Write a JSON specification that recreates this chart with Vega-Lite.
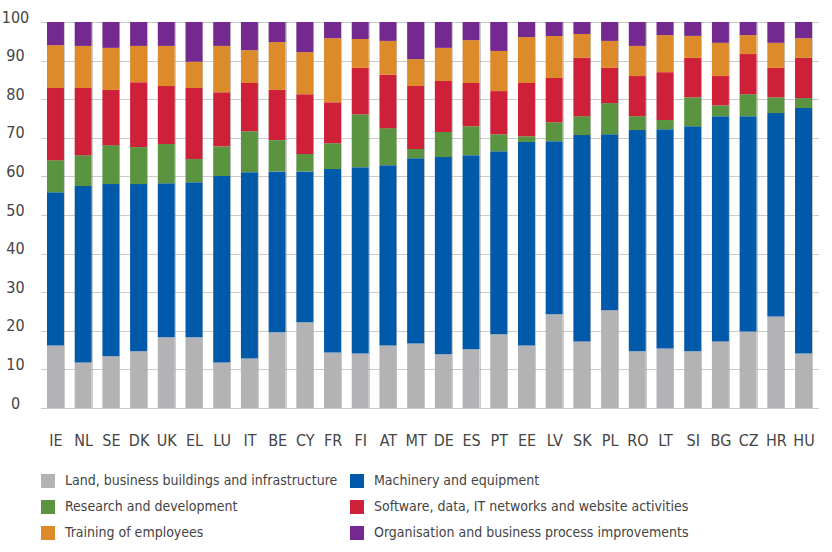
{
  "$schema": "https://vega.github.io/schema/vega-lite/v6.json",
  "width": 777,
  "height": 386,
  "autosize": {"type": "none"},
  "padding": {"left": 41, "top": 22, "right": 14, "bottom": 144},
  "config": {
    "view": {"stroke": null},
    "font": "DejaVu Sans Condensed, DejaVu Sans, sans-serif",
    "axis": {"labelColor": "#444444", "labelFont": "DejaVu Sans Condensed, DejaVu Sans, sans-serif"},
    "legend": {"labelColor": "#444444", "labelFont": "DejaVu Sans Condensed, DejaVu Sans, sans-serif"}
  },
  "data": {
    "values": [
      {"country": "IE", "category": "Land, business buildings and infrastructure", "share": 16.2},
      {"country": "IE", "category": "Machinery and equipment", "share": 39.7},
      {"country": "IE", "category": "Research and development", "share": 8.3},
      {"country": "IE", "category": "Software, data, IT networks and website activities", "share": 18.7},
      {"country": "IE", "category": "Training of employees", "share": 11.1},
      {"country": "IE", "category": "Organisation and business process improvements", "share": 6.0},
      {"country": "NL", "category": "Land, business buildings and infrastructure", "share": 11.8},
      {"country": "NL", "category": "Machinery and equipment", "share": 45.7},
      {"country": "NL", "category": "Research and development", "share": 8.0},
      {"country": "NL", "category": "Software, data, IT networks and website activities", "share": 17.4},
      {"country": "NL", "category": "Training of employees", "share": 10.9},
      {"country": "NL", "category": "Organisation and business process improvements", "share": 6.2},
      {"country": "SE", "category": "Land, business buildings and infrastructure", "share": 13.4},
      {"country": "SE", "category": "Machinery and equipment", "share": 44.6},
      {"country": "SE", "category": "Research and development", "share": 10.1},
      {"country": "SE", "category": "Software, data, IT networks and website activities", "share": 14.3},
      {"country": "SE", "category": "Training of employees", "share": 10.9},
      {"country": "SE", "category": "Organisation and business process improvements", "share": 6.7},
      {"country": "DK", "category": "Land, business buildings and infrastructure", "share": 14.7},
      {"country": "DK", "category": "Machinery and equipment", "share": 43.3},
      {"country": "DK", "category": "Research and development", "share": 9.6},
      {"country": "DK", "category": "Software, data, IT networks and website activities", "share": 16.8},
      {"country": "DK", "category": "Training of employees", "share": 9.4},
      {"country": "DK", "category": "Organisation and business process improvements", "share": 6.2},
      {"country": "UK", "category": "Land, business buildings and infrastructure", "share": 18.3},
      {"country": "UK", "category": "Machinery and equipment", "share": 39.9},
      {"country": "UK", "category": "Research and development", "share": 10.2},
      {"country": "UK", "category": "Software, data, IT networks and website activities", "share": 15.0},
      {"country": "UK", "category": "Training of employees", "share": 10.4},
      {"country": "UK", "category": "Organisation and business process improvements", "share": 6.2},
      {"country": "EL", "category": "Land, business buildings and infrastructure", "share": 18.3},
      {"country": "EL", "category": "Machinery and equipment", "share": 40.2},
      {"country": "EL", "category": "Research and development", "share": 6.0},
      {"country": "EL", "category": "Software, data, IT networks and website activities", "share": 18.4},
      {"country": "EL", "category": "Training of employees", "share": 6.8},
      {"country": "EL", "category": "Organisation and business process improvements", "share": 10.3},
      {"country": "LU", "category": "Land, business buildings and infrastructure", "share": 11.8},
      {"country": "LU", "category": "Machinery and equipment", "share": 48.3},
      {"country": "LU", "category": "Research and development", "share": 7.7},
      {"country": "LU", "category": "Software, data, IT networks and website activities", "share": 14.0},
      {"country": "LU", "category": "Training of employees", "share": 12.0},
      {"country": "LU", "category": "Organisation and business process improvements", "share": 6.2},
      {"country": "IT", "category": "Land, business buildings and infrastructure", "share": 12.8},
      {"country": "IT", "category": "Machinery and equipment", "share": 48.3},
      {"country": "IT", "category": "Research and development", "share": 10.6},
      {"country": "IT", "category": "Software, data, IT networks and website activities", "share": 12.5},
      {"country": "IT", "category": "Training of employees", "share": 8.5},
      {"country": "IT", "category": "Organisation and business process improvements", "share": 7.3},
      {"country": "BE", "category": "Land, business buildings and infrastructure", "share": 19.6},
      {"country": "BE", "category": "Machinery and equipment", "share": 41.7},
      {"country": "BE", "category": "Research and development", "share": 8.1},
      {"country": "BE", "category": "Software, data, IT networks and website activities", "share": 13.0},
      {"country": "BE", "category": "Training of employees", "share": 12.4},
      {"country": "BE", "category": "Organisation and business process improvements", "share": 5.2},
      {"country": "CY", "category": "Land, business buildings and infrastructure", "share": 22.2},
      {"country": "CY", "category": "Machinery and equipment", "share": 39.1},
      {"country": "CY", "category": "Research and development", "share": 4.5},
      {"country": "CY", "category": "Software, data, IT networks and website activities", "share": 15.5},
      {"country": "CY", "category": "Training of employees", "share": 10.9},
      {"country": "CY", "category": "Organisation and business process improvements", "share": 7.8},
      {"country": "FR", "category": "Land, business buildings and infrastructure", "share": 14.4},
      {"country": "FR", "category": "Machinery and equipment", "share": 47.5},
      {"country": "FR", "category": "Research and development", "share": 6.7},
      {"country": "FR", "category": "Software, data, IT networks and website activities", "share": 10.6},
      {"country": "FR", "category": "Training of employees", "share": 16.6},
      {"country": "FR", "category": "Organisation and business process improvements", "share": 4.2},
      {"country": "FI", "category": "Land, business buildings and infrastructure", "share": 14.1},
      {"country": "FI", "category": "Machinery and equipment", "share": 48.3},
      {"country": "FI", "category": "Research and development", "share": 13.7},
      {"country": "FI", "category": "Software, data, IT networks and website activities", "share": 12.0},
      {"country": "FI", "category": "Training of employees", "share": 7.5},
      {"country": "FI", "category": "Organisation and business process improvements", "share": 4.4},
      {"country": "AT", "category": "Land, business buildings and infrastructure", "share": 16.2},
      {"country": "AT", "category": "Machinery and equipment", "share": 46.7},
      {"country": "AT", "category": "Research and development", "share": 9.6},
      {"country": "AT", "category": "Software, data, IT networks and website activities", "share": 13.8},
      {"country": "AT", "category": "Training of employees", "share": 8.8},
      {"country": "AT", "category": "Organisation and business process improvements", "share": 4.9},
      {"country": "MT", "category": "Land, business buildings and infrastructure", "share": 16.7},
      {"country": "MT", "category": "Machinery and equipment", "share": 48.0},
      {"country": "MT", "category": "Research and development", "share": 2.4},
      {"country": "MT", "category": "Software, data, IT networks and website activities", "share": 16.3},
      {"country": "MT", "category": "Training of employees", "share": 7.0},
      {"country": "MT", "category": "Organisation and business process improvements", "share": 9.6},
      {"country": "DE", "category": "Land, business buildings and infrastructure", "share": 13.9},
      {"country": "DE", "category": "Machinery and equipment", "share": 51.1},
      {"country": "DE", "category": "Research and development", "share": 6.5},
      {"country": "DE", "category": "Software, data, IT networks and website activities", "share": 13.2},
      {"country": "DE", "category": "Training of employees", "share": 8.6},
      {"country": "DE", "category": "Organisation and business process improvements", "share": 6.7},
      {"country": "ES", "category": "Land, business buildings and infrastructure", "share": 15.2},
      {"country": "ES", "category": "Machinery and equipment", "share": 50.3},
      {"country": "ES", "category": "Research and development", "share": 7.5},
      {"country": "ES", "category": "Software, data, IT networks and website activities", "share": 11.2},
      {"country": "ES", "category": "Training of employees", "share": 11.1},
      {"country": "ES", "category": "Organisation and business process improvements", "share": 4.7},
      {"country": "PT", "category": "Land, business buildings and infrastructure", "share": 19.1},
      {"country": "PT", "category": "Machinery and equipment", "share": 47.4},
      {"country": "PT", "category": "Research and development", "share": 4.4},
      {"country": "PT", "category": "Software, data, IT networks and website activities", "share": 11.2},
      {"country": "PT", "category": "Training of employees", "share": 10.4},
      {"country": "PT", "category": "Organisation and business process improvements", "share": 7.5},
      {"country": "EE", "category": "Land, business buildings and infrastructure", "share": 16.2},
      {"country": "EE", "category": "Machinery and equipment", "share": 52.7},
      {"country": "EE", "category": "Research and development", "share": 1.5},
      {"country": "EE", "category": "Software, data, IT networks and website activities", "share": 13.8},
      {"country": "EE", "category": "Training of employees", "share": 11.9},
      {"country": "EE", "category": "Organisation and business process improvements", "share": 3.9},
      {"country": "LV", "category": "Land, business buildings and infrastructure", "share": 24.3},
      {"country": "LV", "category": "Machinery and equipment", "share": 44.8},
      {"country": "LV", "category": "Research and development", "share": 4.9},
      {"country": "LV", "category": "Software, data, IT networks and website activities", "share": 11.5},
      {"country": "LV", "category": "Training of employees", "share": 10.9},
      {"country": "LV", "category": "Organisation and business process improvements", "share": 3.6},
      {"country": "SK", "category": "Land, business buildings and infrastructure", "share": 17.2},
      {"country": "SK", "category": "Machinery and equipment", "share": 53.5},
      {"country": "SK", "category": "Research and development", "share": 4.9},
      {"country": "SK", "category": "Software, data, IT networks and website activities", "share": 15.1},
      {"country": "SK", "category": "Training of employees", "share": 6.2},
      {"country": "SK", "category": "Organisation and business process improvements", "share": 3.1},
      {"country": "PL", "category": "Land, business buildings and infrastructure", "share": 25.3},
      {"country": "PL", "category": "Machinery and equipment", "share": 45.6},
      {"country": "PL", "category": "Research and development", "share": 8.1},
      {"country": "PL", "category": "Software, data, IT networks and website activities", "share": 9.1},
      {"country": "PL", "category": "Training of employees", "share": 7.0},
      {"country": "PL", "category": "Organisation and business process improvements", "share": 4.9},
      {"country": "RO", "category": "Land, business buildings and infrastructure", "share": 14.7},
      {"country": "RO", "category": "Machinery and equipment", "share": 57.3},
      {"country": "RO", "category": "Research and development", "share": 3.6},
      {"country": "RO", "category": "Software, data, IT networks and website activities", "share": 10.4},
      {"country": "RO", "category": "Training of employees", "share": 7.8},
      {"country": "RO", "category": "Organisation and business process improvements", "share": 6.2},
      {"country": "LT", "category": "Land, business buildings and infrastructure", "share": 15.4},
      {"country": "LT", "category": "Machinery and equipment", "share": 56.8},
      {"country": "LT", "category": "Research and development", "share": 2.4},
      {"country": "LT", "category": "Software, data, IT networks and website activities", "share": 12.4},
      {"country": "LT", "category": "Training of employees", "share": 9.6},
      {"country": "LT", "category": "Organisation and business process improvements", "share": 3.4},
      {"country": "SI", "category": "Land, business buildings and infrastructure", "share": 14.7},
      {"country": "SI", "category": "Machinery and equipment", "share": 58.3},
      {"country": "SI", "category": "Research and development", "share": 7.5},
      {"country": "SI", "category": "Software, data, IT networks and website activities", "share": 10.2},
      {"country": "SI", "category": "Training of employees", "share": 5.7},
      {"country": "SI", "category": "Organisation and business process improvements", "share": 3.6},
      {"country": "BG", "category": "Land, business buildings and infrastructure", "share": 17.2},
      {"country": "BG", "category": "Machinery and equipment", "share": 58.4},
      {"country": "BG", "category": "Research and development", "share": 2.8},
      {"country": "BG", "category": "Software, data, IT networks and website activities", "share": 7.6},
      {"country": "BG", "category": "Training of employees", "share": 8.6},
      {"country": "BG", "category": "Organisation and business process improvements", "share": 5.4},
      {"country": "CZ", "category": "Land, business buildings and infrastructure", "share": 19.8},
      {"country": "CZ", "category": "Machinery and equipment", "share": 55.8},
      {"country": "CZ", "category": "Research and development", "share": 5.7},
      {"country": "CZ", "category": "Software, data, IT networks and website activities", "share": 10.4},
      {"country": "CZ", "category": "Training of employees", "share": 4.9},
      {"country": "CZ", "category": "Organisation and business process improvements", "share": 3.4},
      {"country": "HR", "category": "Land, business buildings and infrastructure", "share": 23.7},
      {"country": "HR", "category": "Machinery and equipment", "share": 52.7},
      {"country": "HR", "category": "Research and development", "share": 4.1},
      {"country": "HR", "category": "Software, data, IT networks and website activities", "share": 7.6},
      {"country": "HR", "category": "Training of employees", "share": 6.5},
      {"country": "HR", "category": "Organisation and business process improvements", "share": 5.4},
      {"country": "HU", "category": "Land, business buildings and infrastructure", "share": 14.1},
      {"country": "HU", "category": "Machinery and equipment", "share": 63.6},
      {"country": "HU", "category": "Research and development", "share": 2.6},
      {"country": "HU", "category": "Software, data, IT networks and website activities", "share": 10.4},
      {"country": "HU", "category": "Training of employees", "share": 5.1},
      {"country": "HU", "category": "Organisation and business process improvements", "share": 4.2}
    ]
  },
  "transform": [
    {"calculate": "indexof(['Land, business buildings and infrastructure', 'Machinery and equipment', 'Research and development', 'Software, data, IT networks and website activities', 'Training of employees', 'Organisation and business process improvements'], datum.category)", "as": "stackRank"}
  ],
  "mark": {"type": "bar"},
  "encoding": {
    "x": {
      "field": "country",
      "type": "nominal",
      "sort": ["IE","NL","SE","DK","UK","EL","LU","IT","BE","CY","FR","FI","AT","MT","DE","ES","PT","EE","LV","SK","PL","RO","LT","SI","BG","CZ","HR","HU"],
      "scale": {"paddingInner": 0.387, "paddingOuter": 0.216},
      "axis": {
        "title": null,
        "labelAngle": 0,
        "domain": false,
        "ticks": false,
        "grid": true,
        "tickBand": "extent",
        "gridDash": [1, 1],
        "gridColor": "#8c8c8c",
        "gridOpacity": 0.9,
        "labelFontSize": 16,
        "labelPadding": 24
      }
    },
    "y": {
      "field": "share",
      "type": "quantitative",
      "stack": "zero",
      "scale": {"domain": [0, 100], "nice": false},
      "axis": {
        "title": null,
        "values": [0, 10, 20, 30, 40, 50, 60, 70, 80, 90, 100],
        "domain": false,
        "ticks": false,
        "grid": true,
        "gridDash": [1, 1],
        "gridColor": "#8c8c8c",
        "gridOpacity": 0.9,
        "labelFontSize": 16,
        "labelAlign": "center",
        "labelBaseline": "alphabetic",
        "labelPadding": 26
      }
    },
    "order": {"field": "stackRank", "type": "quantitative", "sort": "ascending"},
    "color": {
      "field": "category",
      "type": "nominal",
      "scale": {
        "domain": [
          "Land, business buildings and infrastructure",
          "Machinery and equipment",
          "Research and development",
          "Software, data, IT networks and website activities",
          "Training of employees",
          "Organisation and business process improvements"
        ],
        "range": ["#b3b3b6", "#0059a9", "#5b9441", "#cf2039", "#dd8a2a", "#73298f"]
      },
      "legend": {
        "title": null,
        "orient": "none",
        "direction": "horizontal",
        "legendX": 0,
        "legendY": 452,
        "columns": 2,
        "symbolType": "square",
        "symbolSize": 196,
        "symbolStrokeWidth": 0,
        "symbolOpacity": 1,
        "labelFontSize": 14,
        "labelOffset": 10,
        "labelLimit": 500,
        "rowPadding": 12,
        "columnPadding": 12
      }
    }
  }
}
